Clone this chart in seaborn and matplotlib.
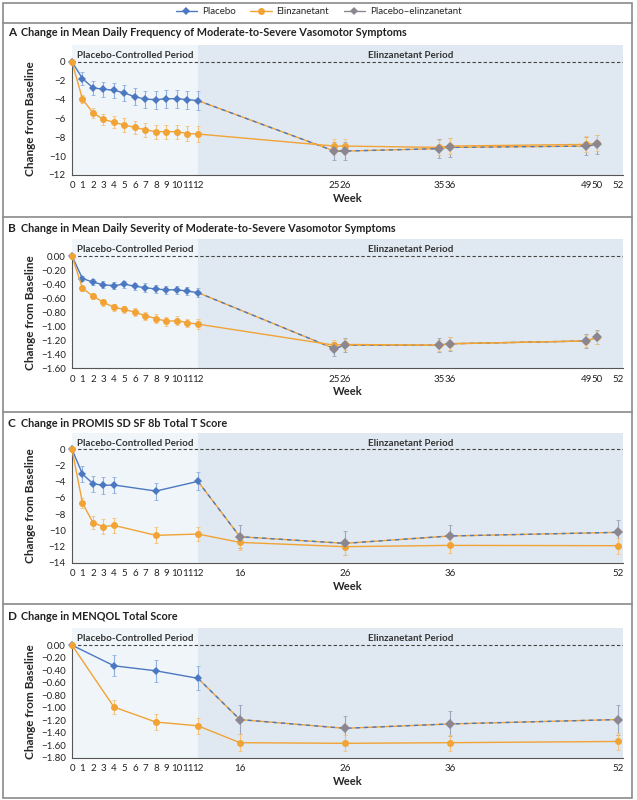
import numpy as np
import pandas as pd
import seaborn as sns
import matplotlib.pyplot as plt
from matplotlib.lines import Line2D
from matplotlib.patches import Rectangle

sns.set_style("white")
plt.rcParams["font.family"] = ["Lato", "DejaVu Sans"]

BLUE = "#4b78c1"
ORANGE = "#f1a335"
GRAY = "#8b8690"
BLUE_ERR = "#8fb0dc"
ORANGE_ERR = "#f5c27a"
GRAY_ERR = "#9aa4bb"
LIGHT = "#f0f5f9"
DARK = "#e0e9f1"
AXCOL = "#555555"

# ---- Panel A: mean daily frequency ----
a_pl_weeks = [0, 1, 2, 3, 4, 5, 6, 7, 8, 9, 10, 11, 12]
a_pl_vals = [0, -1.76, -2.75, -2.9, -3.0, -3.3, -3.7, -3.95, -4.0, -3.9, -3.9, -4.0, -4.1]
a_pl_err = [0, 0.7, 0.75, 0.8, 0.8, 0.85, 0.9, 0.9, 0.95, 0.95, 0.95, 0.95, 1.0]
a_el_weeks = [0, 1, 2, 3, 4, 5, 6, 7, 8, 9, 10, 11, 12, 25, 26, 35, 36, 49, 50]
a_el_vals = [0, -3.95, -5.4, -6.1, -6.4, -6.7, -6.95, -7.2, -7.4, -7.4, -7.4, -7.6, -7.65,
             -8.93, -8.93, -9.07, -8.93, -8.75, -8.65]
a_el_err = [0, 0.45, 0.5, 0.6, 0.65, 0.7, 0.7, 0.75, 0.75, 0.75, 0.75, 0.75, 0.8,
            0.8, 0.8, 0.8, 0.85, 0.85, 0.85]
a_pe_weeks = [12, 25, 26, 35, 36, 49, 50]
a_pe_vals = [-4.1, -9.46, -9.46, -9.2, -9.07, -8.93, -8.75]
a_pe_err = [0, 1.0, 1.0, 1.0, 1.0, 1.0, 1.0]

# ---- Panel B: mean daily severity ----
b_pl_weeks = a_pl_weeks
b_pl_vals = [0, -0.32, -0.37, -0.41, -0.42, -0.40, -0.43, -0.45, -0.47, -0.48, -0.48, -0.50, -0.52]
b_pl_err = [0, 0.04, 0.04, 0.05, 0.05, 0.05, 0.05, 0.06, 0.06, 0.06, 0.06, 0.06, 0.07]
b_el_weeks = a_el_weeks
b_el_vals = [0, -0.46, -0.57, -0.66, -0.73, -0.76, -0.80, -0.85, -0.89, -0.93, -0.92, -0.95, -0.97,
             -1.27, -1.26, -1.27, -1.25, -1.21, -1.16]
b_el_err = [0, 0.04, 0.04, 0.05, 0.05, 0.05, 0.06, 0.06, 0.06, 0.06, 0.06, 0.06, 0.07,
            0.08, 0.08, 0.08, 0.09, 0.09, 0.09]
b_pe_weeks = a_pe_weeks
b_pe_vals = [-0.52, -1.32, -1.27, -1.27, -1.25, -1.21, -1.16]
b_pe_err = [0, 0.1, 0.1, 0.1, 0.1, 0.1, 0.1]

# ---- Panel C: PROMIS SD SF 8b ----
c_pl_weeks = [0, 1, 2, 3, 4, 8, 12]
c_pl_vals = [0, -3.05, -4.24, -4.45, -4.4, -5.15, -3.95]
c_pl_err = [0, 0.95, 1.0, 1.05, 1.0, 1.05, 1.1]
c_el_weeks = [0, 1, 2, 3, 4, 8, 12, 16, 26, 36, 52]
c_el_vals = [0, -6.63, -9.06, -9.55, -9.39, -10.62, -10.46, -11.49, -12.02, -11.86, -11.9]
c_el_err = [0, 0.6, 0.8, 0.9, 0.9, 1.0, 0.9, 1.0, 1.0, 1.0, 1.0]
c_pe_weeks = [12, 16, 26, 36, 52]
c_pe_vals = [-3.95, -10.79, -11.61, -10.7, -10.25]
c_pe_err = [0, 1.4, 1.5, 1.3, 1.5]

# ---- Panel D: MENQOL ----
d_pl_weeks = [0, 4, 8, 12]
d_pl_vals = [0, -0.33, -0.41, -0.53]
d_pl_err = [0, 0.17, 0.18, 0.19]
d_el_weeks = [0, 4, 8, 12, 16, 26, 36, 52]
d_el_vals = [0, -0.99, -1.23, -1.29, -1.56, -1.57, -1.56, -1.54]
d_el_err = [0, 0.11, 0.13, 0.13, 0.14, 0.13, 0.13, 0.13]
d_pe_weeks = [12, 16, 26, 36, 52]
d_pe_vals = [-0.53, -1.19, -1.33, -1.26, -1.19]
d_pe_err = [0, 0.23, 0.2, 0.2, 0.24]

xticks_ab = list(range(13)) + [25, 26, 35, 36, 49, 50, 52]
xticks_cd = list(range(13)) + [16, 26, 36, 52]

W, H = 637, 800


def draw_panel(ax, letter, title, title_y, ytop, yticks, yfmt, xticks,
               pl, el, pe):
    ymin = yticks[-1]
    ax.set_xlim(0, 52.5)
    ax.set_ylim(ymin, ytop)
    ax.axvspan(0, 12, color=LIGHT, zorder=0, lw=0)
    ax.axvspan(12, 52.5, color=DARK, zorder=0, lw=0)
    ax.axhline(0, color="#444444", lw=0.8, ls=(0, (3, 2)), zorder=1)

    # placebo-elinzanetant line: orange base with blue dashes on top
    sns.lineplot(x=pe[0], y=pe[1], ax=ax, color=ORANGE, lw=1.0, zorder=2)
    sns.lineplot(x=pe[0], y=pe[1], ax=ax, color=BLUE, lw=1.0, ls=(0, (3, 3)), zorder=2)
    ax.errorbar(pe[0][1:], pe[1][1:], yerr=pe[2][1:], fmt="none", ecolor=GRAY_ERR,
                elinewidth=0.8, capsize=1.5, capthick=0.6, zorder=3)

    ax.errorbar(pl[0], pl[1], yerr=pl[2], fmt="none", ecolor=BLUE_ERR,
                elinewidth=0.8, capsize=1.5, capthick=0.6, zorder=3)
    ax.errorbar(el[0], el[1], yerr=el[2], fmt="none", ecolor=ORANGE_ERR,
                elinewidth=0.8, capsize=1.5, capthick=0.6, zorder=3)

    sns.lineplot(x=pl[0], y=pl[1], ax=ax, color=BLUE, lw=1.0, marker="D",
                 markersize=4.5, markeredgewidth=0, zorder=4, clip_on=False)
    sns.lineplot(x=el[0], y=el[1], ax=ax, color=ORANGE, lw=1.0, marker="o",
                 markersize=5, markeredgewidth=0, zorder=4, clip_on=False)
    ax.plot(pe[0][1:], pe[1][1:], ls="none", marker="D", markersize=4.8,
            color=GRAY, markeredgewidth=0, zorder=5)

    ax.set_xticks(xticks)
    ax.set_xticklabels([str(t) for t in xticks])
    ax.set_yticks(yticks)
    ax.set_yticklabels([yfmt.format(v).replace("-", "\u2212") for v in yticks])
    ax.tick_params(axis="both", direction="out", length=3, width=0.7,
                   colors=AXCOL, labelsize=7, pad=1.5, labelcolor="#222222")
    for side in ["top", "right"]:
        ax.spines[side].set_visible(False)
    ax.spines["left"].set_bounds(ymin, 0)
    for side in ["left", "bottom"]:
        ax.spines[side].set_color(AXCOL)
        ax.spines[side].set_linewidth(0.8)

    ax.set_xlabel("Week", fontsize=8, fontweight="bold", labelpad=2)
    ax.set_ylabel("Change from Baseline", fontsize=8.5, fontweight="bold")
    mid = (ymin / 2 - ymin) / (ytop - ymin)
    ax.yaxis.set_label_coords(-0.066, mid)

    trans = ax.get_xaxis_transform()
    ax.text(6, 0.92, "Placebo-Controlled Period", transform=trans, ha="center",
            va="center", fontsize=7, fontweight="bold", color="#333333")
    ax.text(32.25, 0.92, "Elinzanetant Period", transform=trans, ha="center",
            va="center", fontsize=7, fontweight="bold", color="#333333")

    fig.text(8 / W, 1 - title_y / H, letter, fontsize=8.5, fontweight="bold",
             va="center", color="#222222")
    fig.text(21 / W, 1 - title_y / H, title, fontsize=7.8, fontweight="bold",
             va="center", color="#222222")


fig = plt.figure(figsize=(W / 100, H / 100), dpi=100)

ax_left = 72 / W
ax_w = 551 / W
ax_a = fig.add_axes([ax_left, 1 - 175 / H, ax_w, 130 / H])
ax_b = fig.add_axes([ax_left, 1 - 368.3 / H, ax_w, 129 / H])
ax_c = fig.add_axes([ax_left, 1 - 562.7 / H, ax_w, 130 / H])
ax_d = fig.add_axes([ax_left, 1 - 757.7 / H, ax_w, 129.4 / H])

draw_panel(ax_a, "A", "Change in Mean Daily Frequency of Moderate-to-Severe Vasomotor Symptoms",
           33, 1.8, [0, -2, -4, -6, -8, -10, -12], "{:.0f}", xticks_ab,
           (a_pl_weeks, a_pl_vals, a_pl_err), (a_el_weeks, a_el_vals, a_el_err),
           (a_pe_weeks, a_pe_vals, a_pe_err))
draw_panel(ax_b, "B", "Change in Mean Daily Severity of Moderate-to-Severe Vasomotor Symptoms",
           229, 0.24, list(np.round(np.arange(0, -1.61, -0.2), 2)), "{:.2f}", xticks_ab,
           (b_pl_weeks, b_pl_vals, b_pl_err), (b_el_weeks, b_el_vals, b_el_err),
           (b_pe_weeks, b_pe_vals, b_pe_err))
draw_panel(ax_c, "C", "Change in PROMIS SD SF 8b Total T Score",
           423, 2.06, [0, -2, -4, -6, -8, -10, -12, -14], "{:.0f}", xticks_cd,
           (c_pl_weeks, c_pl_vals, c_pl_err), (c_el_weeks, c_el_vals, c_el_err),
           (c_pe_weeks, c_pe_vals, c_pe_err))
draw_panel(ax_d, "D", "Change in MENQOL Total Score",
           617, 0.27, list(np.round(np.arange(0, -1.81, -0.2), 2)), "{:.2f}", xticks_cd,
           (d_pl_weeks, d_pl_vals, d_pl_err), (d_el_weeks, d_el_vals, d_el_err),
           (d_pe_weeks, d_pe_vals, d_pe_err))

# legend
handles = [
    Line2D([], [], color=BLUE, lw=1.0, marker="D", markersize=4.5, markeredgewidth=0),
    Line2D([], [], color=ORANGE, lw=1.0, marker="o", markersize=5, markeredgewidth=0),
    Line2D([], [], color=GRAY, lw=1.0, marker="D", markersize=4.5, markeredgewidth=0),
]
fig.legend(handles, ["Placebo", "Elinzanetant", "Placebo\u2013elinzanetant"],
           loc="center", bbox_to_anchor=(0.5, 1 - 12 / H), ncol=3, frameon=False,
           fontsize=7, handlelength=2.2, columnspacing=1.5, handletextpad=0.5)

# frame and panel separators
fig.add_artist(Rectangle((3 / W, 2 / H), 629 / W, 795 / H, transform=fig.transFigure,
                         fill=False, ec="#8a8a8a", lw=1.2))
for yy in [22.5, 216.5, 411.5, 604]:
    fig.add_artist(Line2D([3 / W, 632 / W], [1 - yy / H, 1 - yy / H],
                          transform=fig.transFigure, color="#8a8a8a", lw=1.2))

fig.savefig("out.png", dpi=100)
